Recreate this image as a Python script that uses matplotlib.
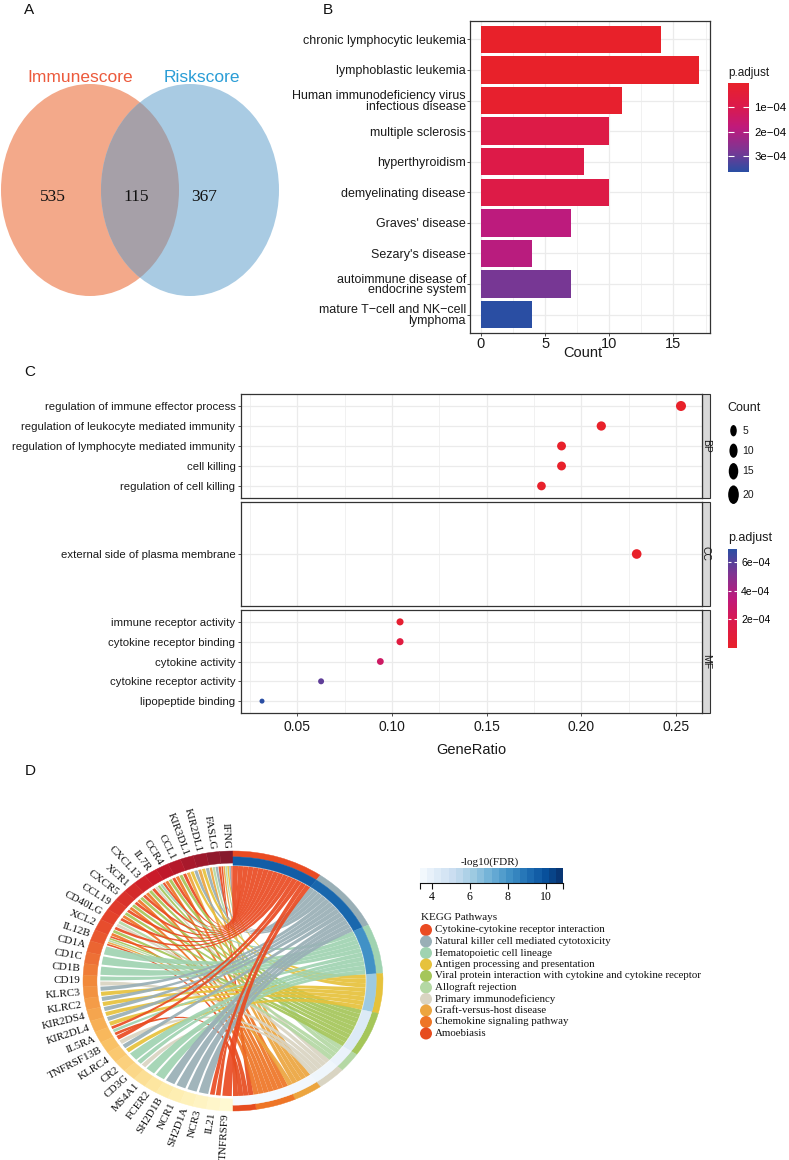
import numpy as np
import matplotlib
matplotlib.use('Agg')
import matplotlib.pyplot as plt
from matplotlib.patches import Ellipse, Wedge, PathPatch, Rectangle
from matplotlib.path import Path
from matplotlib.colors import LinearSegmentedColormap, Normalize
from matplotlib.cm import ScalarMappable

# ---------------- data ----------------
venn_names = ['Immunescore', 'Riskscore']
venn_counts = [535, 115, 367]          # only left, shared, only right

b_terms = ['chronic lymphocytic leukemia', 'lymphoblastic leukemia',
           'Human immunodeficiency virus\ninfectious disease', 'multiple sclerosis',
           'hyperthyroidism', 'demyelinating disease', "Graves' disease",
           "Sezary's disease", 'autoimmune disease of\nendocrine system',
           'mature T\u2212cell and NK\u2212cell\nlymphoma']
b_counts = [14, 17, 11, 10, 8, 10, 7, 4, 7, 4]
b_padj = [3e-6, 3e-6, 1.2e-5, 8.5e-5, 8.8e-5, 8.5e-5, 1.85e-4, 1.9e-4, 2.8e-4, 3.63e-4]
b_padj_ticks = [1e-4, 2e-4, 3e-4]

c_bp_terms = ['regulation of immune effector process', 'regulation of leukocyte mediated immunity',
              'regulation of lymphocyte mediated immunity', 'cell killing', 'regulation of cell killing']
c_bp_ratio = [0.2526, 0.2105, 0.1895, 0.1895, 0.1789]
c_bp_count = [24, 20, 18, 18, 17]
c_bp_padj = [1e-6, 2e-6, 4e-6, 4e-6, 6e-6]
c_cc_terms = ['external side of plasma membrane']
c_cc_ratio = [0.2292]
c_cc_count = [22]
c_cc_padj = [2e-6]
c_mf_terms = ['immune receptor activity', 'cytokine receptor binding', 'cytokine activity',
              'cytokine receptor activity', 'lipopeptide binding']
c_mf_ratio = [0.1042, 0.1042, 0.0938, 0.0625, 0.0313]
c_mf_count = [10, 10, 9, 6, 3]
c_mf_padj = [4e-5, 1.2e-4, 2.6e-4, 5.8e-4, 6.9e-4]
c_ratio_ticks = [0.05, 0.10, 0.15, 0.20, 0.25]
c_count_legend = [5, 10, 15, 20]
c_padj_ticks = [2e-4, 4e-4, 6e-4]

genes = ['IFNG', 'FASLG', 'KIR2DL1', 'KIR3DL1', 'CCL1', 'CCR4', 'IL7R', 'CXCL13', 'XCR1',
         'CXCR5', 'CCL19', 'CD40LG', 'XCL2', 'IL12B', 'CD1A', 'CD1C', 'CD1B', 'CD19', 'KLRC3',
         'KLRC2', 'KIR2DS4', 'KIR2DL4', 'IL5RA', 'TNFRSF13B', 'KLRC4', 'CR2', 'CD3G', 'MS4A1',
         'FCER2', 'SH2D1B', 'NCR1', 'SH2D1A', 'NCR3', 'IL21', 'TNFRSF9']
kegg_pathways = ['Cytokine-cytokine receptor interaction',
                 'Natural killer cell mediated cytotoxicity',
                 'Hematopoietic cell lineage',
                 'Antigen processing and presentation',
                 'Viral protein interaction with cytokine and cytokine receptor',
                 'Allograft rejection',
                 'Primary immunodeficiency',
                 'Graft-versus-host disease',
                 'Chemokine signaling pathway',
                 'Amoebiasis']
kegg_fdr = [9.6, 9.3, 8.1, 6.2, 4.4, 3.9, 3.7, 3.6, 3.5, 3.45]
kegg_genes = [
    ['IFNG', 'FASLG', 'CCL1', 'CCR4', 'IL7R', 'CXCL13', 'XCR1', 'CXCR5', 'CCL19', 'CD40LG',
     'XCL2', 'IL12B', 'IL5RA', 'TNFRSF13B', 'IL21', 'TNFRSF9'],
    ['IFNG', 'FASLG', 'KIR2DL1', 'KIR3DL1', 'KLRC3', 'KLRC2', 'KIR2DS4', 'KIR2DL4', 'KLRC4',
     'SH2D1B', 'NCR1', 'SH2D1A', 'NCR3'],
    ['IL7R', 'CD1A', 'CD1C', 'CD1B', 'CD19', 'IL5RA', 'CR2', 'CD3G', 'MS4A1', 'FCER2'],
    ['IFNG', 'KIR2DL1', 'KIR3DL1', 'KLRC3', 'KLRC2', 'KIR2DS4', 'KIR2DL4', 'KLRC4'],
    ['CCL1', 'CCR4', 'IL7R', 'CXCL13', 'XCR1', 'CXCR5', 'CCL19', 'XCL2', 'IL12B'],
    ['IFNG', 'FASLG', 'CD40LG', 'IL12B'],
    ['IL7R', 'CD40LG', 'CD19', 'CD3G', 'TNFRSF13B'],
    ['IFNG', 'FASLG', 'KIR2DL1', 'KIR3DL1', 'IL12B'],
    ['CCL1', 'CCR4', 'CXCL13', 'XCR1', 'CXCR5', 'CCL19', 'XCL2'],
    ['IFNG', 'IL12B', 'IL5RA', 'IL21'],
]
fdr_ticks = [4, 6, 8, 10]

# ---------------- style ----------------
SANS = ['Liberation Sans', 'DejaVu Sans']
SERIF = ['Liberation Serif', 'DejaVu Serif']
plt.rcParams['font.family'] = SANS
kegg_colors = ['#EA4B22', '#99AFB6', '#A0D3B1', '#E6C23C', '#A5C65A',
               '#B4D8A4', '#D9D4C2', '#ECA53F', '#EE7526', '#E64C1F']
cmap_p = LinearSegmentedColormap.from_list(
    'padj', ['#E8212A', '#DC1A4A', '#BF1A7C', '#7F3592', '#2A4EA3'])
gene_cmap = LinearSegmentedColormap.from_list(
    'genes', ['#861A2D', '#C8182A', '#E6452B', '#F1883A', '#F9BE60', '#FDE9A4', '#FFF9D2'])
GRID = '#EBEBEB'
FRAME = '#333333'

W, H = 789, 1160
fig = plt.figure(figsize=(W / 100, H / 100), dpi=100)


def ax_px(x0, y0, x1, y1):
    return fig.add_axes([x0 / W, 1 - y1 / H, (x1 - x0) / W, (y1 - y0) / H])


ov = fig.add_axes([0, 0, 1, 1])
ov.set_xlim(0, W)
ov.set_ylim(H, 0)
ov.axis('off')

for lab, (x, y) in zip('ABCD', [(29, 10), (328, 10), (30, 372), (30, 771)]):
    ov.text(x, y, lab, fontsize=11, ha='center', va='center', color='#111111')

# ---------------- A: Venn ----------------
eL = Ellipse((90, 190), 178, 212, fc='#F3A98A', ec='none')
eR = Ellipse((190, 190), 178, 212, fc='#A9CBE3', ec='none')
ov.add_patch(eL)
ov.add_patch(eR)
eI = Ellipse((190, 190), 178, 212, fc='#A6A0A8', ec='none')
ov.add_patch(eI)
eI.set_clip_path(eL)
ov.text(80, 77, venn_names[0], color='#EC5A3C', fontsize=12.5, ha='center', va='center')
ov.text(202, 77, venn_names[1], color='#2A9DD6', fontsize=12.5, ha='center', va='center')
for x, v in zip([53, 136, 204], venn_counts):
    ov.text(x, 197, str(v), family=SERIF, fontsize=12.5, ha='center', va='center', color='#111111')

# ---------------- B: barplot ----------------
axB = ax_px(470, 21, 710, 333)
normB = Normalize(2e-6, 3.63e-4)
yb = np.arange(len(b_terms), 0, -1)
axB.barh(yb, b_counts, height=0.9, color=cmap_p(normB(np.array(b_padj))), zorder=3)
axB.set_xlim(-0.85, 17.85)
axB.set_ylim(0.4, len(b_terms) + 0.6)
axB.set_yticks(yb)
axB.set_yticklabels(b_terms, fontsize=9, color='#1A1A1A')
for t in axB.get_yticklabels():
    t.set_linespacing(0.85)
axB.set_xticks([0, 5, 10, 15])
axB.set_xticklabels(['0', '5', '10', '15'], fontsize=10.5, color='#1A1A1A')
axB.set_xticks([2.5, 7.5, 12.5, 17.5], minor=True)
axB.grid(which='major', color=GRID, lw=0.9, zorder=0)
axB.grid(which='minor', axis='x', color=GRID, lw=0.5, zorder=0)
axB.set_axisbelow(True)
axB.tick_params(which='major', length=2, width=0.6, color=FRAME, pad=1)
axB.tick_params(which='minor', length=0)
for s in axB.spines.values():
    s.set_color(FRAME)
    s.set_linewidth(0.9)
ov.text(582.7, 353, 'Count', fontsize=10.5, ha='center', va='center', color='#1A1A1A')

caxB = ax_px(728, 83, 749, 172)
cbB = fig.colorbar(ScalarMappable(norm=normB, cmap=cmap_p), cax=caxB)
cbB.outline.set_visible(False)
caxB.invert_yaxis()
cbB.set_ticks(b_padj_ticks)
cbB.set_ticklabels(['%de\u221204' % round(v * 1e4) for v in b_padj_ticks])
caxB.tick_params(axis='y', which='both', left=True, right=True, labelleft=False, labelright=True,
                 direction='in', color='white', length=4, width=0.8, labelsize=8.2, pad=4)
caxB.minorticks_off()
ov.text(728, 73, 'p.adjust', fontsize=8.5, ha='left', va='center', color='#1A1A1A')

# ---------------- C: dotplot ----------------
normC = Normalize(0, 6.9e-4)


def size_of(c):
    return 7.4 + 1.857 * np.asarray(c, dtype=float)


panels = [((241, 394, 702, 498), c_bp_terms, c_bp_ratio, c_bp_count, c_bp_padj, 'BP'),
          ((241, 502, 702, 606), c_cc_terms, c_cc_ratio, c_cc_count, c_cc_padj, 'CC'),
          ((241, 610, 702, 713), c_mf_terms, c_mf_ratio, c_mf_count, c_mf_padj, 'MF')]
for k, (rect, terms, ratio, cnt, padj, strip) in enumerate(panels):
    ax = ax_px(*rect)
    n = len(terms)
    yy = np.arange(n, 0, -1)
    ax.scatter(ratio, yy, s=size_of(cnt), c=padj, cmap=cmap_p, norm=normC,
               edgecolors='none', zorder=3)
    ax.set_xlim(0.0202, 0.2637)
    ax.set_ylim(0.4, n + 0.6)
    ax.set_yticks(yy)
    ax.set_yticklabels(terms, fontsize=8.2, color='#1A1A1A')
    ax.set_xticks(c_ratio_ticks)
    ax.set_xticks([0.025, 0.075, 0.125, 0.175, 0.225], minor=True)
    ax.grid(which='major', color=GRID, lw=0.9, zorder=0)
    ax.grid(which='minor', axis='x', color=GRID, lw=0.5, zorder=0)
    ax.set_axisbelow(True)
    ax.tick_params(which='major', length=2, width=0.6, color=FRAME, pad=2)
    ax.tick_params(which='minor', length=0)
    for s in ax.spines.values():
        s.set_color(FRAME)
        s.set_linewidth(0.9)
    if k < 2:
        ax.tick_params(axis='x', bottom=False, labelbottom=False)
    else:
        ax.set_xticklabels(['%.2f' % v for v in c_ratio_ticks], fontsize=10, color='#1A1A1A')
        ax.tick_params(axis='x', pad=3)
    x0, y0, x1, y1 = rect
    ov.add_patch(Rectangle((x1, y0), 8, y1 - y0, fc='#D9D9D9', ec=FRAME, lw=0.8))
    ov.text(x1 + 4, (y0 + y1) / 2, strip, rotation=-90, fontsize=7.5, ha='center', va='center',
            color='#1A1A1A')
ov.text(471, 750, 'GeneRatio', fontsize=10.5, ha='center', va='center', color='#1A1A1A')

ov.text(727.7, 408, 'Count', fontsize=9, ha='left', va='center', color='#1A1A1A')
for c, y in zip(c_count_legend, [430.7, 450.7, 471.3, 494.7]):
    d = np.sqrt(size_of(c)) / 0.72
    ov.add_patch(Ellipse((733.5, y), d * 1.15, d * 2.0, fc='black', ec='none'))
    ov.text(742.7, y, str(c), fontsize=7.5, ha='left', va='center', color='#1A1A1A')

caxC = ax_px(728, 549, 737, 648)
cbC = fig.colorbar(ScalarMappable(norm=normC, cmap=cmap_p), cax=caxC)
cbC.outline.set_visible(False)
cbC.set_ticks(c_padj_ticks)
cbC.set_ticklabels(['%de\u221204' % round(v * 1e4) for v in c_padj_ticks])
caxC.tick_params(axis='y', which='both', left=True, right=True, labelleft=False, labelright=True,
                 direction='in', color='white', length=2.5, width=0.8, labelsize=7.5, pad=3)
caxC.minorticks_off()
ov.text(727.7, 538, 'p.adjust', fontsize=9, ha='left', va='center', color='#1A1A1A')

# ---------------- D: chord ----------------
RX, RY = 150.0, 130.0
CY = 981
axD = ax_px(63, CY - 150, 403, CY + 150)
axD.set_xlim(-170 / RX, 170 / RX)
axD.set_ylim(-150 / RY, 150 / RY)
axD.axis('off')

ng = len(genes)
gw = 180.0 / ng
gidx = {g: i for i, g in enumerate(genes)}
links = [(gidx[g], p) for p, gl in enumerate(kegg_genes) for g in gl]
total = len(links)
pu = 180.0 / total

# gene ring
for i, g in enumerate(genes):
    col = gene_cmap(i / (ng - 1))
    axD.add_patch(Wedge((0, 0), 1.0, 90 + i * gw, 90 + (i + 1) * gw, width=0.093,
                        fc=col, ec=col, lw=0.3))
    th = np.radians(90 + (i + 0.5) * gw)
    phi = np.degrees(np.arctan2(RY * np.sin(th), RX * np.cos(th)))
    axD.text(1.02 * np.cos(th), 1.02 * np.sin(th), g, family=SERIF, fontsize=8,
             rotation=phi - 180, rotation_mode='anchor', ha='right', va='center',
             color='#111111')

# pathway ring
normF = Normalize(3.38, 10.9)
blues = plt.get_cmap('Blues')
p_start = {}
cum = 0
for p, gl in enumerate(kegg_genes):
    a_hi = 90 - cum * pu
    a_lo = 90 - (cum + len(gl)) * pu
    p_start[p] = a_hi
    cum += len(gl)
    axD.add_patch(Wedge((0, 0), 1.0, a_lo, a_hi, width=0.045, fc=kegg_colors[p],
                        ec=kegg_colors[p], lw=0.3))
    bc = blues(normF(kegg_fdr[p]))
    axD.add_patch(Wedge((0, 0), 0.955, a_lo, a_hi, width=0.065, fc=bc, ec=bc, lw=0.3))

# sub-arcs
gene_links = {i: sorted([p for (g, p) in links if g == i]) for i in range(ng)}
gene_sub = {}
for i, pl in gene_links.items():
    n = len(pl)
    if n == 0:
        continue
    sw = gw / n
    for k, p in enumerate(pl):
        a1 = 90 + i * gw + k * sw
        pad = 0.1 * sw
        gene_sub[(i, p)] = (a1 + pad, a1 + sw - pad)
path_sub = {}
for p, gl in enumerate(kegg_genes):
    idxs = sorted(gidx[g] for g in gl)
    for k, i in enumerate(idxs):
        hi = p_start[p] - k * pu
        path_sub[(i, p)] = (hi, hi - pu)


def arc_pts(a1, a2, r, n=20):
    t = np.radians(np.linspace(a1, a2, n))
    return np.column_stack([r * np.cos(t), r * np.sin(t)])


RC = 0.885
for p in range(len(kegg_pathways) - 1, -1, -1):
    for (i, pp) in [(gidx[g], p) for g in kegg_genes[p]]:
        g1, g2 = gene_sub[(i, pp)]
        p1, p2 = path_sub[(i, pp)]
        A = arc_pts(g1, g2, RC)
        B = arc_pts(p2, p1, RC)
        verts = list(A) + [(0, 0), tuple(B[0])] + list(B[1:]) + [(0, 0), tuple(A[0]), tuple(A[0])]
        codes = ([Path.MOVETO] + [Path.LINETO] * (len(A) - 1) + [Path.CURVE3, Path.CURVE3]
                 + [Path.LINETO] * (len(B) - 1) + [Path.CURVE3, Path.CURVE3, Path.CLOSEPOLY])
        axD.add_patch(PathPatch(Path(verts, codes), fc=kegg_colors[p], ec='none', alpha=0.92))

# D legends
ov.text(490, 862, '-log10(FDR)', family=SERIF, fontsize=8, ha='center', va='center', color='#111111')
caxD = ax_px(420, 868, 563, 883)
edges = np.linspace(3.38, 10.9, 21)
centers = (edges[:-1] + edges[1:]) / 2
caxD.pcolormesh(edges, [0, 1], centers[None, :], cmap=blues, norm=normF)
caxD.set_xlim(3.38, 10.9)
caxD.set_ylim(0, 1)
caxD.set_yticks([])
for side in ['left', 'right', 'top']:
    caxD.spines[side].set_visible(False)
caxD.spines['bottom'].set_color('#111111')
caxD.spines['bottom'].set_linewidth(0.8)
caxD.set_xticks(fdr_ticks)
caxD.set_xticklabels([str(v) for v in fdr_ticks], family=SERIF, fontsize=8.5)
caxD.set_xticks([3.38, 10.9], minor=True)
caxD.tick_params(axis='x', which='both', direction='out', length=4, width=0.8, color='#111111', pad=2)

ov.text(420.7, 918, 'KEGG Pathways', family=SERIF, fontsize=8, ha='left', va='center', color='#111111')
for k, (name, col) in enumerate(zip(kegg_pathways, kegg_colors)):
    y = 930 + k * 11.5
    ov.add_patch(Ellipse((426, y), 12, 12, fc=col, ec='none'))
    ov.text(435, y, name, family=SERIF, fontsize=7.8, ha='left', va='center', color='#111111')

fig.savefig('out.png', dpi=100)
